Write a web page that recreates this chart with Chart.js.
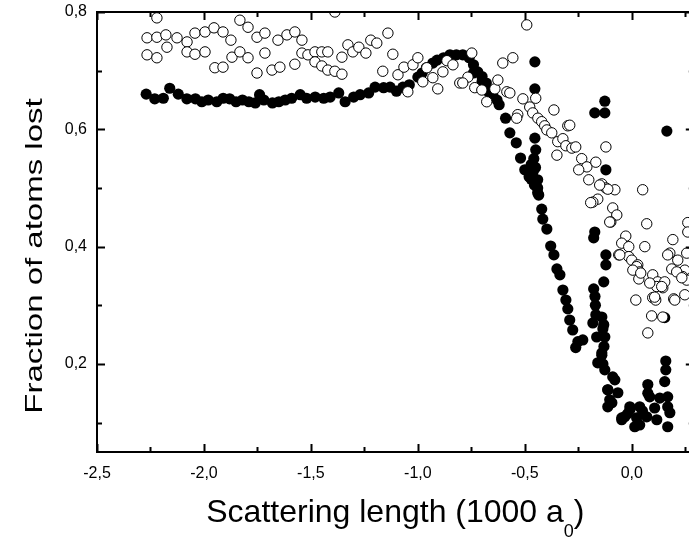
<!DOCTYPE html>
<html lang="en">
  <head>
    <meta charset="UTF-8" />
    <title>Fraction of atoms lost</title>
  </head>
  <style>
    * {
      margin: 0;
      padding: 0;
    }
    body {
      background: white;
      overflow: hidden;
    }
    .chartBox {
      width: 700px;
      height: 539px;
    }
  </style>
  <body>
    <div class="chartBox">
      <canvas id="myChart"></canvas>
    </div>

    <script src="https://cdn.jsdelivr.net/npm/chart.js"></script>

    <script>
      // data block (x in 1000 a0, y = fraction lost)
      const filledX = [
        -2.27, -2.23, -2.19, -2.16, -2.12, -2.08, -2.04, -2.01, -1.98, -1.94,
        -1.91, -1.88, -1.85, -1.82, -1.79, -1.76, -1.74, -1.72, -1.68, -1.65,
        -1.62, -1.59, -1.55, -1.52, -1.48, -1.44, -1.41, -1.37, -1.34, -1.30,
        -1.27, -1.23, -1.20, -1.16, -1.13, -1.10, -1.07, -1.04, -1.00,
        -0.98, -0.96, -0.93, -0.91, -0.88, -0.85, -0.82, -0.79, -0.76, -0.74,
        -0.74, -0.72, -0.70, -0.70, -0.68, -0.67, -0.65, -0.63, -0.62, -0.59,
        -0.57, -0.54, -0.52, -0.50, -0.48, -0.44, -0.44,
        -0.453, -0.453, -0.453, -0.449, -0.458, -0.463, -0.45, -0.47, -0.47, -0.455, -0.44, -0.46,
        -0.435, -0.421, -0.416, -0.397, -0.379, -0.364, -0.350, -0.336, -0.322, -0.308,
        -0.299, -0.290, -0.276, -0.262, -0.252, -0.229,
        -0.126, -0.173, -0.126, 0.164, -0.121, -0.173, -0.178, -0.121, -0.121, -0.131,
        -0.178, -0.168, -0.182, -0.131, -0.126, -0.164, -0.140, -0.159, -0.126, -0.079,
        -0.112, -0.093, -0.047, -0.14, -0.135, -0.13, -0.14, -0.135, -0.17, -0.172,
        -0.089, 0.075, 0.154, -0.112, -0.065, 0.084, 0.131, 0.168, 0.168, -0.112,
        -0.009, 0.037, 0.107, -0.033, 0.023, 0.070, 0.117, 0.014, 0.168, 0.178,
        0.159, 0.154, -0.009, 0.037, -0.047, -0.103, 0.159, 0.075, 0.05, -0.02
      ];
      const filledY = [
        0.660, 0.652, 0.653, 0.670, 0.660, 0.652, 0.652, 0.647, 0.650, 0.647,
        0.653, 0.652, 0.647, 0.650, 0.647, 0.645, 0.659, 0.650, 0.645, 0.647,
        0.650, 0.653, 0.659, 0.653, 0.655, 0.653, 0.655, 0.662, 0.647, 0.655,
        0.659, 0.662, 0.672, 0.671, 0.672, 0.665, 0.672, 0.676, 0.689,
        0.696, 0.705, 0.713, 0.718, 0.722, 0.727, 0.727, 0.727, 0.722, 0.710,
        0.696, 0.698, 0.690, 0.681, 0.679, 0.664, 0.660, 0.650, 0.642, 0.619,
        0.594, 0.577, 0.551, 0.531, 0.519, 0.514, 0.492,
        0.715, 0.669, 0.585, 0.565, 0.550, 0.526, 0.535, 0.540, 0.515, 0.505, 0.500, 0.530,
        0.488, 0.464, 0.447, 0.430, 0.401, 0.386, 0.362, 0.352, 0.326, 0.309,
        0.294, 0.275, 0.258, 0.228, 0.238, 0.241,
        0.648, 0.628, 0.628, 0.597, 0.531, 0.425, 0.415, 0.386, 0.369, 0.340,
        0.328, 0.284, 0.270, 0.267, 0.246, 0.246, 0.219, 0.202, 0.190, 0.173,
        0.156, 0.134, 0.105, 0.280, 0.260, 0.230, 0.215, 0.200, 0.300, 0.315,
        0.178, 0.165, 0.170, 0.156, 0.151, 0.144, 0.142, 0.144, 0.127, 0.127,
        0.127, 0.127, 0.125, 0.110, 0.108, 0.110, 0.105, 0.093, 0.093, 0.117,
        0.205, 0.279, 0.122, 0.096, 0.108, 0.139, 0.190, 0.150, 0.120, 0.115
      ];
      const openX = [
        -2.220, -2.266, -2.220, -2.178, -2.126, -2.079, -2.173, -2.079, -2.042, -1.995,
        -2.042, -1.995, -1.953, -1.911, -1.874, -2.266, -2.220, -1.949, -1.911, -1.869,
        -1.832, -1.794, -1.832, -1.794, -1.752, -1.715, -1.715, -1.752, -1.682, -1.645,
        -1.654, -1.612, -1.575, -1.542, -1.575, -1.542, -1.514, -1.481, -1.449, -1.421,
        -1.481, -1.449, -1.421, -1.388, -1.355, -1.388, -1.355, -1.327, -1.304, -1.276,
        -1.243, -1.220, -1.192, -1.140, -1.117, -1.164, -1.093, -1.065, -1.023, -1.000,
        -1.047, -0.977, -0.958, -0.930, -0.907, -0.883, -0.864, -0.836, -0.748, -0.766,
        -0.804, -0.790, -0.734, -0.701, -0.678, -0.491, -0.603, -0.556, -0.640, -0.626,
        -0.584, -0.570, -0.509, -0.449, -0.477, -0.533, -0.538, -0.463, -0.439, -0.421,
        -0.407, -0.397, -0.374, -0.364, -0.299, -0.346, -0.322, -0.308, -0.280, -0.262,
        -0.350, -0.234, -0.210, -0.248, -0.168, -0.121, -0.201, -0.140, -0.121, -0.079,
        0.051, -0.159, -0.182, -0.290, -0.112, -0.192, -0.089, -0.070, -0.098, 0.070,
        -0.028, -0.047, -0.014, 0.061, -0.061, -0.014, 0.000, 0.028, 0.192, 0.178,
        0.215, 0.257, 0.023, 0.037, 0.005, 0.033, 0.187, 0.248, 0.098, 0.121,
        0.117, 0.145, 0.098, 0.112, 0.019, 0.196, 0.238, 0.257, 0.248, 0.093,
        0.145, 0.075, -0.103, -0.150, -0.056, 0.042, 0.168, 0.210, 0.234, 0.154,
        0.140, 0.084, 0.107, 0.201, 0.262, 0.262
      ];
      const openY = [
        0.790, 0.756, 0.757, 0.761, 0.756, 0.749, 0.740, 0.732, 0.728, 0.732,
        0.764, 0.766, 0.773, 0.766, 0.752, 0.727, 0.722, 0.705, 0.706, 0.723,
        0.732, 0.722, 0.786, 0.774, 0.757, 0.764, 0.730, 0.696, 0.701, 0.706,
        0.752, 0.761, 0.766, 0.752, 0.711, 0.730, 0.727, 0.732, 0.732, 0.732,
        0.715, 0.708, 0.701, 0.699, 0.694, 0.800, 0.723, 0.744, 0.732, 0.740,
        0.730, 0.752, 0.747, 0.764, 0.728, 0.699, 0.693, 0.706, 0.710, 0.722,
        0.664, 0.681, 0.705, 0.688, 0.669, 0.698, 0.717, 0.710, 0.730, 0.689,
        0.679, 0.679, 0.671, 0.667, 0.647, 0.778, 0.713, 0.722, 0.669, 0.684,
        0.664, 0.662, 0.652, 0.653, 0.638, 0.625, 0.619, 0.628, 0.619, 0.613,
        0.606, 0.599, 0.594, 0.633, 0.606, 0.579, 0.584, 0.572, 0.568, 0.570,
        0.556, 0.550, 0.536, 0.531, 0.544, 0.570, 0.514, 0.507, 0.500, 0.497,
        0.497, 0.481, 0.476, 0.607, 0.498, 0.475, 0.466, 0.454, 0.442, 0.439,
        0.418, 0.406, 0.400, 0.400, 0.386, 0.383, 0.377, 0.369, 0.412, 0.389,
        0.377, 0.389, 0.366, 0.357, 0.360, 0.345, 0.362, 0.360, 0.352, 0.340,
        0.332, 0.330, 0.313, 0.309, 0.309, 0.311, 0.349, 0.343, 0.318, 0.282,
        0.280, 0.253, 0.442, 0.505, 0.386, 0.355, 0.386, 0.357, 0.347, 0.340,
        0.332, 0.338, 0.314, 0.309, 0.441, 0.425
      ];

      // axis ticks
      const xTicks = [-2.5, -2.0, -1.5, -1.0, -0.5, 0.0];
      const xMinor = [-2.25, -1.75, -1.25, -0.75, -0.25, 0.25];
      const yTicks = [0.2, 0.4, 0.6, 0.8];
      const yMinor = [0.1, 0.3, 0.5, 0.7];

      const toPoints = (xs, ys) => xs.map((x, i) => ({ x: x, y: ys[i] }));
      const comma = (v) => Number(v).toFixed(1).replace(".", ",");
      const FONT = "'Liberation Sans', Arial, sans-serif";

      // frame + inward ticks on all four sides
      const frame = {
        id: "frame",
        afterDatasetsDraw(chart) {
          const { ctx, chartArea: a, scales } = chart;
          const { x, y } = scales;
          ctx.save();
          ctx.strokeStyle = "#000";
          ctx.lineWidth = 2;
          ctx.strokeRect(a.left, a.top, a.right - a.left, a.bottom - a.top);
          ctx.beginPath();
          const tx = (v, len) => {
            const px = Math.round(x.getPixelForValue(v)) + 0.5;
            ctx.moveTo(px, a.bottom);
            ctx.lineTo(px, a.bottom - len);
            ctx.moveTo(px, a.top);
            ctx.lineTo(px, a.top + len);
          };
          const ty = (v, len) => {
            const py = Math.round(y.getPixelForValue(v)) + 0.5;
            ctx.moveTo(a.left, py);
            ctx.lineTo(a.left + len, py);
            ctx.moveTo(a.right, py);
            ctx.lineTo(a.right - len, py);
          };
          xTicks.forEach((v) => tx(v, 8));
          xMinor.forEach((v) => tx(v, 5));
          yTicks.forEach((v) => ty(v, 8));
          yMinor.forEach((v) => ty(v, 5));
          ctx.stroke();
          ctx.restore();
        }
      };

      // axis titles (subscript 0 and squeezed vertical title)
      const titles = {
        id: "titles",
        afterDraw(chart) {
          const { ctx, chartArea: a } = chart;
          ctx.save();
          ctx.fillStyle = "#000";
          ctx.textBaseline = "alphabetic";
          ctx.textAlign = "left";

          const main = "Scattering length (1000 a";
          const sub = "0";
          const close = ")";
          ctx.font = "32px " + FONT;
          const w1 = ctx.measureText(main).width;
          const w3 = ctx.measureText(close).width;
          ctx.font = "18px " + FONT;
          const w2 = ctx.measureText(sub).width;
          let xs = (a.left + a.right) / 2 - (w1 + w2 + w3) / 2;
          const base = 522;
          ctx.font = "32px " + FONT;
          ctx.fillText(main, xs, base);
          ctx.font = "18px " + FONT;
          ctx.fillText(sub, xs + w1, base + 15);
          ctx.font = "32px " + FONT;
          ctx.fillText(close, xs + w1 + w2, base);

          ctx.translate(42, 256);
          ctx.rotate(-Math.PI / 2);
          ctx.scale(1, 0.72);
          ctx.textAlign = "center";
          ctx.font = "33px " + FONT;
          ctx.fillText("Fraction of atoms lost", 0, 0);
          ctx.restore();
        }
      };

      const data = {
        datasets: [
          {
            label: "open",
            data: toPoints(openX, openY),
            backgroundColor: "#fff",
            borderColor: "#000",
            borderWidth: 1,
            pointRadius: 5.2,
            order: 1
          },
          {
            label: "filled",
            data: toPoints(filledX, filledY),
            backgroundColor: "#000",
            borderColor: "#000",
            borderWidth: 0,
            pointRadius: 5.6,
            order: 2
          }
        ]
      };

      const config = {
        type: "scatter",
        data,
        options: {
          responsive: true,
          maintainAspectRatio: false,
          animation: false,
          layout: { padding: { top: 12, right: 6, left: 0, bottom: 0 } },
          plugins: {
            legend: { display: false },
            tooltip: { enabled: false }
          },
          scales: {
            x: {
              type: "linear",
              min: -2.5,
              max: 0.29,
              grid: { display: false, drawTicks: false },
              border: { display: false },
              afterBuildTicks: (s) => {
                s.ticks = xTicks.map((v) => ({ value: v }));
              },
              afterFit: (s) => {
                s.height = 87;
                s.paddingLeft = 0;
                s.paddingRight = 0;
              },
              ticks: {
                color: "#000",
                padding: 12,
                maxRotation: 0,
                font: { family: FONT, size: 16 },
                callback: (v) => comma(v)
              }
            },
            y: {
              min: 0.05,
              max: 0.8,
              grid: { display: false, drawTicks: false },
              border: { display: false },
              afterBuildTicks: (s) => {
                s.ticks = yTicks.map((v) => ({ value: v }));
              },
              afterFit: (s) => {
                s.width = 97;
                s.paddingTop = 0;
                s.paddingBottom = 0;
              },
              ticks: {
                color: "#000",
                padding: 10,
                font: { family: FONT, size: 16 },
                callback: (v) => comma(v)
              }
            }
          }
        },
        plugins: [frame, titles]
      };

      const myChart = new Chart(document.getElementById("myChart"), config);
    </script>
  </body>
</html>
